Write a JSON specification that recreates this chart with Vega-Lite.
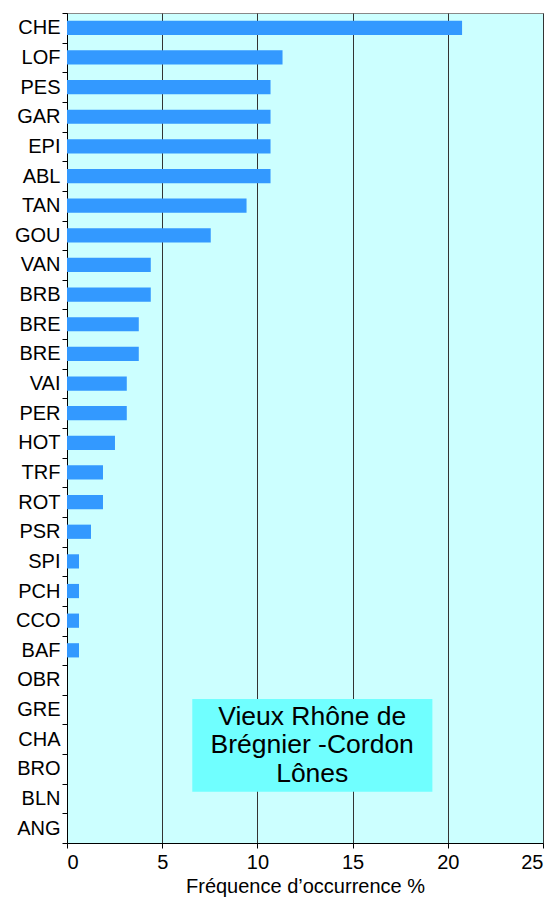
{
  "$schema": "https://vega.github.io/schema/vega-lite/v6.json",
  "autosize": {"type": "none"},
  "padding": {"left": 67, "top": 13, "right": 15, "bottom": 59},
  "width": 476,
  "height": 830,
  "background": "white",
  "config": {
    "font": "Liberation Sans",
    "view": {"fill": "#CCFFFF", "stroke": "#888888", "strokeWidth": 1}
  },
  "datasets": {
    "especes": [
      {"cle": "CHE", "freq": 20.75},
      {"cle": "LOF", "freq": 11.32},
      {"cle": "PES", "freq": 10.69},
      {"cle": "GAR", "freq": 10.69},
      {"cle": "EPI", "freq": 10.69},
      {"cle": "ABL", "freq": 10.69},
      {"cle": "TAN", "freq": 9.43},
      {"cle": "GOU", "freq": 7.55},
      {"cle": "VAN", "freq": 4.40},
      {"cle": "BRB", "freq": 4.40},
      {"cle": "BRE", "freq": 3.77},
      {"cle": "BRE#2", "freq": 3.77},
      {"cle": "VAI", "freq": 3.14},
      {"cle": "PER", "freq": 3.14},
      {"cle": "HOT", "freq": 2.52},
      {"cle": "TRF", "freq": 1.89},
      {"cle": "ROT", "freq": 1.89},
      {"cle": "PSR", "freq": 1.26},
      {"cle": "SPI", "freq": 0.63},
      {"cle": "PCH", "freq": 0.63},
      {"cle": "CCO", "freq": 0.63},
      {"cle": "BAF", "freq": 0.63},
      {"cle": "OBR", "freq": 0},
      {"cle": "GRE", "freq": 0},
      {"cle": "CHA", "freq": 0},
      {"cle": "BRO", "freq": 0},
      {"cle": "BLN", "freq": 0},
      {"cle": "ANG", "freq": 0}
    ],
    "encadre": [
      {"x1": 6.58, "x2": 19.19, "haut": "GRE", "bas": "BLN", "xc": 12.88, "ligne": "GRE", "texte": "Vieux Rhône de\nBrégnier -Cordon\nLônes"}
    ]
  },
  "layer": [
    {
      "data": {"name": "especes"},
      "mark": {"type": "bar", "color": "#3399FF", "height": {"band": 0.48}},
      "encoding": {
        "y": {
          "field": "cle", "type": "nominal", "sort": null,
          "scale": {"type": "band", "paddingInner": 0, "paddingOuter": 0,
            "domain": ["CHE","LOF","PES","GAR","EPI","ABL","TAN","GOU","VAN","BRB","BRE","BRE#2","VAI","PER","HOT","TRF","ROT","PSR","SPI","PCH","CCO","BAF","OBR","GRE","CHA","BRO","BLN","ANG"]},
          "axis": {
            "title": null, "tickBand": "extent", "labelExpr": "replace(datum.label, '#2', '')",
            "labelFontSize": 20, "labelColor": "black", "labelPadding": 2,
            "domainColor": "black", "tickColor": "black", "tickSize": 5, "grid": false
          }
        },
        "x": {
          "field": "freq", "type": "quantitative",
          "scale": {"domain": [0, 25], "nice": false},
          "axis": {
            "title": "Fréquence d’occurrence %", "values": [0, 5, 10, 15, 20, 25],
            "grid": true, "gridColor": "#333333", "gridOpacity": 1,
            "domainColor": "black", "tickColor": "black", "tickSize": 5,
            "labelFontSize": 20, "labelColor": "black", "labelPadding": 4,
            "titleFontSize": 20, "titleFontWeight": "normal", "titleColor": "black", "titlePadding": 4
          }
        }
      }
    },
    {
      "data": {"name": "encadre"},
      "mark": {"type": "rect", "color": "#70FFFF"},
      "encoding": {
        "x": {"field": "x1", "type": "quantitative"},
        "x2": {"field": "x2"},
        "y": {"field": "haut", "type": "nominal", "bandPosition": 0.14},
        "y2": {"field": "bas", "bandPosition": 0.27}
      }
    },
    {
      "data": {"name": "encadre"},
      "mark": {"type": "text", "fontSize": 26.5, "color": "black", "lineBreak": "\n", "lineHeight": 28.5, "baseline": "middle", "align": "center", "dy": 7},
      "encoding": {
        "x": {"field": "xc", "type": "quantitative"},
        "y": {"field": "ligne", "type": "nominal"},
        "text": {"field": "texte"}
      }
    }
  ]
}
